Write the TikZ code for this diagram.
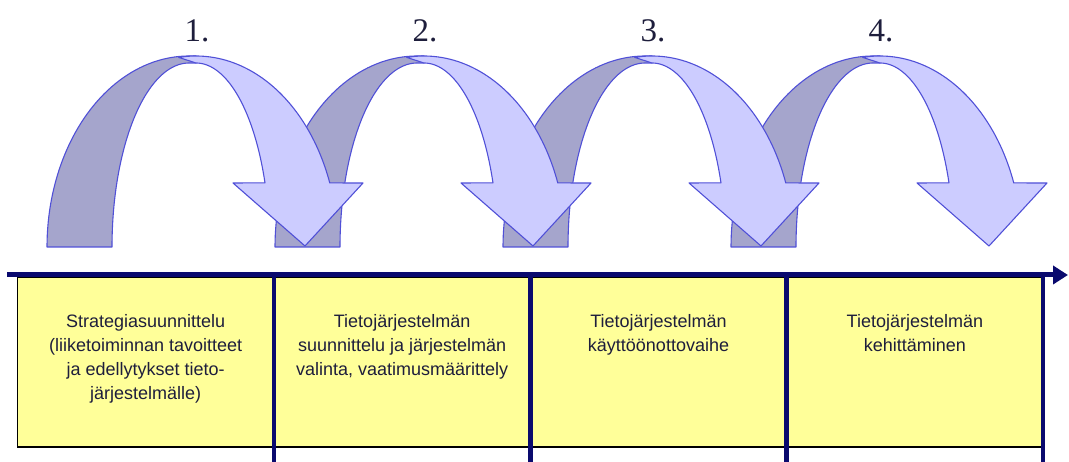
\documentclass[tikz,border=0pt]{standalone}
\usepackage{fontspec}
\setmainfont{Liberation Serif}
\setsansfont{Liberation Sans}
\usetikzlibrary{arrows.meta}
\definecolor{arrdark}{RGB}{165,165,204}
\definecolor{arrlight}{RGB}{204,204,255}
\definecolor{arredge}{RGB}{80,80,215}
\definecolor{navy}{RGB}{10,10,110}
\definecolor{boxyellow}{RGB}{255,255,153}
\definecolor{txt}{RGB}{30,30,60}
\begin{document}
\begin{tikzpicture}[x=1pt,y=1pt,
  back/.style={fill=arrdark,draw=arredge,line width=1.1pt,line join=round},
  front/.style={fill=arrlight,draw=arredge,line width=1.1pt,line join=round},
  num/.style={font=\fontsize{33}{36}\selectfont,text=txt,inner sep=0pt,anchor=base},
  phase/.style={draw=black,line width=1.4pt,fill=boxyellow,minimum width=256.4pt,minimum height=169.5pt,inner sep=0pt},
  ptext/.style={font=\sffamily\fontsize{18}{24.2}\selectfont,text=txt,align=center,anchor=north,inner sep=0pt},
  axis/.style={draw=navy,line width=5pt},
  tick/.style={draw=navy,line width=4.5pt}
]
\useasboundingbox (0,0) rectangle (1069,462);

% back (dark) halves of the curved arrows
\foreach \k in {0,...,3}{
  \pgfmathsetmacro\cd{189+228*\k}
  \pgfmathsetmacro\cl{196+228*\k}
  \path[back] plot[domain=180:90,samples=50] ({\cd+142*cos(\x)},{215+191*sin(\x)})
    -- (\cl,406) -- (\cl,399)
    -- plot[domain=90:180,samples=50] ({\cd+77*cos(\x)},{215+184*sin(\x)}) -- cycle;
}
% front (light) halves with heads
\foreach \k in {0,...,3}{
  \pgfmathsetmacro\cl{196+228*\k}
  \path[front] plot[domain=97:19.6,samples=50] ({\cl+142*cos(\x)},{215+191*sin(\x)})
    -- (\cl+167,279) -- (\cl+109,216) -- (\cl+37,279)
    -- plot[domain=20.4:90,samples=50] ({\cl+73.6*cos(\x)},{215+184*sin(\x)}) -- cycle;
}
% step numbers
\node[num] (n1) at (197,420) {1.};
\node[num] (n2) at (425,420) {2.};
\node[num] (n3) at (653,420) {3.};
\node[num] (n4) at (881,420) {4.};

% phase boxes
\node[phase] (b1) at (145.7,99.75) {};
\node[phase] (b2) at (402.1,99.75) {};
\node[phase] (b3) at (658.5,99.75) {};
\node[phase] (b4) at (914.9,99.75) {};

\node[ptext] (t1) at ([yshift=-37pt]b1.north) {Strategiasuunnittelu\\(liiketoiminnan tavoitteet\\ja edellytykset tieto-\\järjestelmälle)};
\node[ptext] (t2) at ([yshift=-37pt]b2.north) {Tietojärjestelmän\\suunnittelu ja järjestelmän\\valinta, vaatimusmäärittely};
\node[ptext] (t3) at ([yshift=-37pt]b3.north) {Tietojärjestelmän\\käyttöönottovaihe};
\node[ptext] (t4) at ([yshift=-37pt]b4.north) {Tietojärjestelmän\\kehittäminen};

% dividers
\foreach \i/\xx in {1/273.9,2/530.3,3/786.6,4/1043}{
  \coordinate (u\i) at (\xx,187);
  \coordinate (l\i) at (\xx,0);
  \draw[tick] (u\i) -- (l\i);
}
% time axis
\coordinate (a0) at (7,187);
\coordinate (a1) at (1068,187);
\draw[axis,-{Triangle[length=15pt,width=18pt]}] (a0) -- (a1);
\end{tikzpicture}
\end{document}
